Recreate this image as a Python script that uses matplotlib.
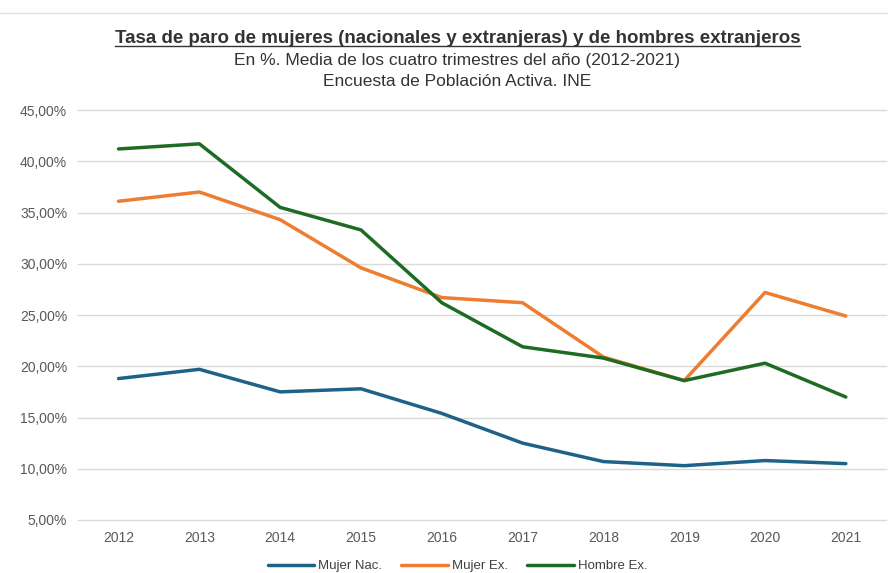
import matplotlib.pyplot as plt
from matplotlib.ticker import FuncFormatter

plt.rcParams['font.family'] = ['Liberation Sans', 'DejaVu Sans']

years = [2012, 2013, 2014, 2015, 2016, 2017, 2018, 2019, 2020, 2021]
mujer_nac = [18.8, 19.7, 17.5, 17.8, 15.4, 12.5, 10.7, 10.3, 10.8, 10.5]
mujer_ex = [36.1, 37.0, 34.3, 29.6, 26.7, 26.2, 20.9, 18.6, 27.2, 24.9]
hombre_ex = [41.2, 41.7, 35.5, 33.3, 26.2, 21.9, 20.8, 18.6, 20.3, 17.0]

fig = plt.figure(figsize=(8.88, 5.73), dpi=100)
ax = fig.add_axes([0.088, 0.0925, 0.91, 0.7155])

ax.plot(years, mujer_nac, color='#1F6287', lw=2.5, label='Mujer Nac.', solid_capstyle='round')
ax.plot(years, mujer_ex, color='#ED7D31', lw=2.5, label='Mujer Ex.', solid_capstyle='round')
ax.plot(years, hombre_ex, color='#1E6B24', lw=2.5, label='Hombre Ex.', solid_capstyle='round')

ax.set_xlim(2011.5, 2021.5)
ax.set_ylim(5, 45)
ax.set_xticks(years)
ax.set_yticks(range(5, 46, 5))
ax.yaxis.set_major_formatter(FuncFormatter(lambda v, p: f'{v:.2f}%'.replace('.', ',')))
ax.tick_params(length=0, labelsize=10, colors='#595959', pad=8)
ax.grid(axis='y', color='#D9D9D9', lw=1, clip_on=False)
ax.set_axisbelow(True)
for s in ax.spines.values():
    s.set_visible(False)

# faint sheet border at the top
fig.add_artist(plt.Line2D([0, 1], [0.977, 0.977], transform=fig.transFigure,
                          color='#E0E0E0', lw=1))

fig.text(0.515, 0.932, 'Tasa de paro de mujeres (nacionales y extranjeras) y de hombres extranjeros',
         ha='center', va='center', fontsize=13.5, fontweight='bold', color='#333333')
fig.text(0.515, 0.895, 'En %. Media de los cuatro trimestres del año (2012-2021)',
         ha='center', va='center', fontsize=12.5, color='#333333')
fig.text(0.515, 0.858, 'Encuesta de Población Activa. INE',
         ha='center', va='center', fontsize=12.5, color='#333333')

# underline for title
fig.canvas.draw()
t = fig.texts[0]
bb = t.get_window_extent().transformed(fig.transFigure.inverted())
fig.add_artist(plt.Line2D([bb.x0, bb.x1], [bb.y0 + 0.002, bb.y0 + 0.002],
                          transform=fig.transFigure, color='#333333', lw=1))

fig.legend(loc='center', bbox_to_anchor=(0.515, 0.012), ncol=3, frameon=False,
           fontsize=9.5, handlelength=3.5, columnspacing=1.5, handletextpad=0.3,
           labelcolor='#404040')

fig.savefig('out.png', dpi=100)
